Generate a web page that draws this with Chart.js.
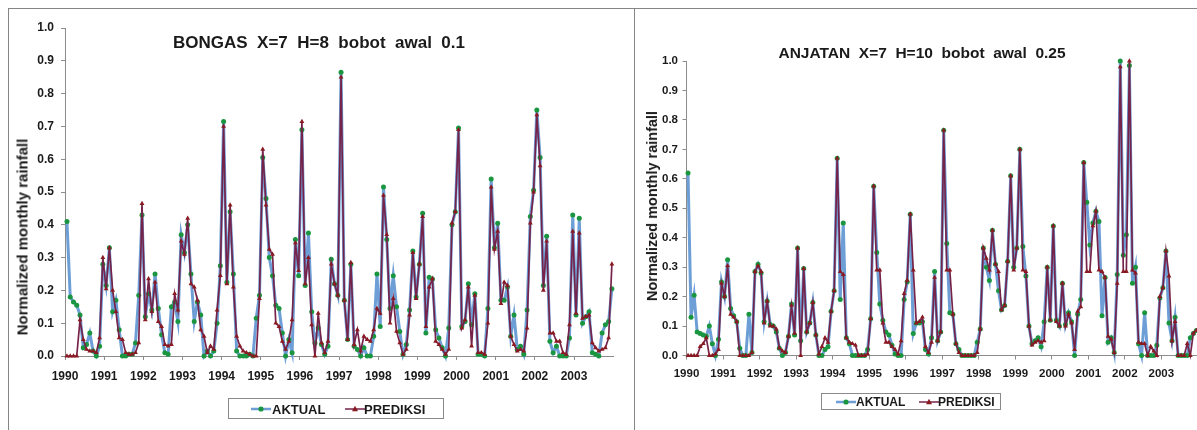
<!DOCTYPE html>
<html>
<head>
<meta charset="utf-8">
<script src="https://cdn.jsdelivr.net/npm/chart.js@4.4.1/dist/chart.umd.min.js"></script>
<style>
html, body { margin: 0; padding: 0; background: #fff; }
body { width: 1197px; height: 430px; overflow: hidden; position: relative; font-family: "Liberation Sans", Arial, sans-serif; color: #1a1a1a; }
.panel { position: absolute; border: 1px solid #858585; }
canvas { position: absolute; }
.ttl { position: absolute; font-weight: bold; white-space: pre; transform: translate(-50%, -50%); }
.ytl { position: absolute; font-weight: bold; white-space: pre; transform: translate(-50%, -50%) rotate(-90deg); }
.leg { position: absolute; border: 1px solid #8a8a8a; box-sizing: border-box; font-weight: bold; }
.leg span { position: absolute; top: 50%; transform: translateY(-50%); white-space: pre; }
.leg svg { position: absolute; top: 50%; transform: translateY(-50%); }
</style>
</head>
<body>
<div class="panel" style="left:8px;top:8px;width:640px;height:440px;border-right:none"></div>
<div class="panel" style="left:634px;top:8px;width:640px;height:440px;background:#fff"></div>
<canvas id="c1" width="611" height="421" style="left:9px;top:9px;width:611px;height:421px"></canvas>
<canvas id="c2" width="600" height="421" style="left:635px;top:9px;width:600px;height:421px"></canvas>

<div id="t1" class="ttl" style="left:319px;top:43px;font-size:17px"></div>
<div id="t2" class="ttl" style="left:922px;top:53px;font-size:15.5px"></div>
<div id="y1" class="ytl" style="left:22px;top:237px;font-size:15px"></div>
<div id="y2" class="ytl" style="left:652px;top:206px;font-size:14.5px"></div>

<div id="l1" class="leg" style="left:228px;top:398px;width:216px;height:21px;font-size:13px"></div>
<div id="l2" class="leg" style="left:821px;top:393px;width:180px;height:17px;font-size:12px"></div>

<script>
const years = ['1990','1991','1992','1993','1994','1995','1996','1997','1998','1999','2000','2001','2002','2003'];
const seriesNames = ['AKTUAL', 'PREDIKSI'];
const titleBongas = 'BONGAS  X=7  H=8  bobot  awal  0.1';
const titleAnjatan = 'ANJATAN  X=7  H=10  bobot  awal  0.25';
const yTitle = 'Normalized monthly rainfall';

// BONGAS, monthly Jan 1990 - Dec 2003
const bongasAktual = [
  0.41,0.18,0.165,0.155,0.125,0.025,0.035,0.07,0.015,0.0,0.03,0.28,
  0.215,0.33,0.135,0.17,0.08,0.0,0.0,0.005,0.005,0.04,0.185,0.43,
  0.12,0.19,0.14,0.25,0.145,0.065,0.01,0.005,0.15,0.165,0.105,0.37,
  0.315,0.40,0.25,0.105,0.165,0.125,0.0,0.015,0.0,0.015,0.10,0.275,
  0.715,0.225,0.44,0.25,0.015,0.0,0.0,0.0,0.005,0.0,0.115,0.185,
  0.605,0.48,0.30,0.245,0.155,0.145,0.07,0.0,0.05,0.01,0.355,0.245,
  0.69,0.215,0.375,0.135,0.04,0.085,0.035,0.005,0.03,0.295,0.22,0.185,
  0.865,0.17,0.05,0.28,0.03,0.02,0.0,0.025,0.0,0.0,0.06,0.25,
  0.09,0.515,0.355,0.145,0.245,0.15,0.075,0.005,0.035,0.14,0.32,0.18,
  0.28,0.435,0.07,0.24,0.235,0.08,0.055,0.025,0.0,0.085,0.40,0.44,
  0.695,0.09,0.105,0.22,0.095,0.19,0.005,0.005,0.0,0.145,0.54,0.33,
  0.405,0.17,0.17,0.21,0.06,0.125,0.02,0.03,0.005,0.14,0.425,0.505,
  0.75,0.605,0.215,0.365,0.045,0.01,0.03,0.0,0.0,0.0,0.055,0.43,
  0.125,0.42,0.10,0.12,0.135,0.01,0.005,0.0,0.07,0.095,0.105,0.205
];
const bongasPrediksi = [
  0,0,0,0,0.11,0.05,0.02,0.015,0.015,0.01,0.055,0.30,
  0.205,0.33,0.20,0.135,0.055,0.05,0.01,0.005,0.005,0.01,0.04,0.465,
  0.11,0.235,0.135,0.225,0.105,0.09,0.035,0.03,0.035,0.19,0.14,0.35,
  0.31,0.42,0.22,0.21,0.17,0.08,0.06,0.01,0.03,0.02,0.14,0.245,
  0.70,0.22,0.46,0.21,0.06,0.03,0.015,0.01,0.005,0.0,0.0,0.175,
  0.63,0.46,0.325,0.31,0.10,0.09,0.045,0.02,0.045,0.11,0.345,0.26,
  0.715,0.22,0.30,0.095,0.0,0.13,0.04,0.01,0.045,0.28,0.22,0.185,
  0.85,0.17,0.05,0.285,0.035,0.08,0.015,0.06,0.05,0.045,0.08,0.145,
  0.13,0.49,0.37,0.10,0.175,0.075,0.04,0.005,0.02,0.125,0.315,0.175,
  0.28,0.425,0.09,0.21,0.235,0.045,0.035,0.02,0.005,0.02,0.405,0.44,
  0.69,0.085,0.11,0.21,0.03,0.185,0.01,0.01,0.005,0.10,0.515,0.325,
  0.38,0.16,0.225,0.215,0.06,0.035,0.015,0.02,0.015,0.085,0.405,0.50,
  0.735,0.58,0.20,0.35,0.07,0.07,0.045,0.045,0.01,0.005,0.095,0.38,
  0.13,0.375,0.115,0.12,0.125,0.04,0.025,0.015,0.02,0.025,0.055,0.28
];

// ANJATAN, monthly Jan 1990 - Dec 2003
const anjatanAktual = [
  0.62,0.13,0.205,0.08,0.075,0.07,0.065,0.10,0.04,0.0,0.055,0.25,
  0.20,0.325,0.16,0.135,0.115,0.025,0.0,0.0,0.14,0.01,0.285,0.31,
  0.28,0.115,0.185,0.105,0.10,0.08,0.025,0.0,0.01,0.065,0.175,0.07,
  0.365,0.05,0.295,0.08,0.11,0.18,0.07,0.0,0.0,0.02,0.03,0.15,
  0.22,0.67,0.19,0.45,0.06,0.04,0.0,0.0,0.0,0.0,0.0,0.02,
  0.125,0.575,0.35,0.175,0.12,0.08,0.07,0.035,0.005,0.0,0.0,0.19,
  0.25,0.48,0.075,0.11,0.11,0.115,0.02,0.005,0.06,0.285,0.05,0.08,
  0.765,0.38,0.145,0.14,0.04,0.02,0.0,0.0,0.0,0.0,0.0,0.045,
  0.09,0.365,0.30,0.255,0.425,0.31,0.22,0.155,0.17,0.32,0.61,0.30,
  0.365,0.70,0.37,0.27,0.10,0.04,0.05,0.06,0.03,0.115,0.30,0.12,
  0.44,0.12,0.10,0.245,0.105,0.145,0.115,0.0,0.14,0.19,0.655,0.52,
  0.375,0.45,0.49,0.455,0.135,0.265,0.045,0.06,0.01,0.275,1.0,0.34,
  0.41,0.985,0.245,0.30,0.04,0.0,0.145,0.0,0.0,0.0,0.035,0.195,
  0.23,0.355,0.11,0.05,0.13,0.0,0.0,0.0,0.0,0.06,0.075,0.085
];
const anjatanPrediksi = [
  0,0,0,0,0.03,0.04,0.06,0.0,0.0,0.005,0.02,0.245,
  0.20,0.305,0.14,0.13,0.115,0.0,0.0,0.0,0.0,0.01,0.285,0.305,
  0.285,0.11,0.185,0.10,0.10,0.09,0.025,0.015,0.01,0.065,0.17,0.075,
  0.365,0.0,0.295,0.08,0.11,0.18,0.07,0.005,0.03,0.06,0.045,0.15,
  0.22,0.67,0.285,0.275,0.06,0.045,0.04,0.035,0.0,0.0,0.0,0.005,
  0.125,0.575,0.29,0.29,0.11,0.045,0.045,0.03,0.02,0.005,0.05,0.21,
  0.255,0.48,0.29,0.11,0.115,0.13,0.03,0.01,0.045,0.265,0.05,0.08,
  0.765,0.29,0.29,0.14,0.04,0.01,0.0,0.0,0.0,0.0,0.0,0.01,
  0.09,0.365,0.33,0.29,0.425,0.31,0.285,0.155,0.17,0.32,0.61,0.29,
  0.365,0.70,0.29,0.285,0.10,0.035,0.045,0.05,0.045,0.05,0.30,0.12,
  0.44,0.115,0.10,0.245,0.10,0.14,0.11,0.02,0.15,0.165,0.655,0.285,
  0.285,0.44,0.49,0.29,0.285,0.265,0.065,0.055,0.01,0.245,0.98,0.285,
  0.285,1.0,0.29,0.28,0.045,0.04,0.04,0.0,0.03,0.015,0.0,0.2,
  0.23,0.355,0.27,0.05,0.115,0.0,0.0,0.0,0.04,0.0,0.075,0.085
];

const blue = '#6d9fd6';
const green = '#1b9640';
const red = '#8a1a22';
const redLine = '#76234a';
const axisCol = '#8c8c8c';
const txtCol = '#1a1a1a';

Chart.defaults.font.family = '"Liberation Sans", Arial, sans-serif';

function makeChart(id, aktual, prediksi, o) {
  const pts = arr => arr.map((v, i) => ({x: i, y: v}));
  return new Chart(document.getElementById(id), {
    type: 'line',
    data: {
      datasets: [
        {
          label: seriesNames[0], data: pts(aktual), order: 1, clip: false,
          borderColor: blue, borderWidth: 3, tension: 0,
          pointStyle: 'circle', pointRadius: 2.5, pointBorderWidth: 0,
          pointBackgroundColor: green, pointBorderColor: green
        },
        {
          label: seriesNames[1], data: pts(prediksi), order: 0, clip: false,
          borderColor: redLine, borderWidth: 1.7, tension: 0,
          pointStyle: 'triangle', pointRadius: 2.8, pointBorderWidth: 0,
          pointBackgroundColor: red, pointBorderColor: red
        }
      ]
    },
    options: {
      responsive: false,
      animation: false,
      devicePixelRatio: 1,
      layout: {padding: o.pad},
      plugins: {legend: {display: false}, tooltip: {enabled: false}},
      scales: {
        x: {
          type: 'linear', min: o.xmin, max: o.xmax,
          ticks: {
            stepSize: 12, includeBounds: false, maxTicksLimit: 20, autoSkip: false, maxRotation: 0,
            padding: o.xpad, color: txtCol, font: {size: o.fs, weight: 'bold'},
            callback: v => years[Math.round(v / 12)]
          },
          grid: {drawOnChartArea: false, tickLength: 4, color: axisCol},
          border: {color: axisCol},
          afterFit: s => { s.height = 30; }
        },
        y: {
          min: 0, max: 1,
          ticks: {
            stepSize: 0.1, maxTicksLimit: 12, padding: o.ypad, color: txtCol,
            font: {size: o.fs, weight: 'bold'},
            callback: v => v.toFixed(1)
          },
          grid: {drawOnChartArea: false, tickLength: 4, color: axisCol},
          border: {color: axisCol},
          afterFit: s => { s.width = o.yw; }
        }
      }
    }
  });
}

// left: plot 65..613 x 28..356 ; right: plot 686.5..1198 x 61..355.5
makeChart('c1', bongasAktual, bongasPrediksi, {
  pad: {left: 0, top: 19, right: 6.8, bottom: 44}, yw: 56, xmin: -0.6, xmax: 167.4,
  xpad: 9, ypad: 7, fs: 12
});
makeChart('c2', anjatanAktual, anjatanPrediksi, {
  pad: {left: 0, top: 52, right: 37.1, bottom: 44.5}, yw: 51.5, xmin: -0.5, xmax: 167.5,
  xpad: 7, ypad: 4.5, fs: 11.5
});

document.getElementById('t1').textContent = titleBongas;
document.getElementById('t2').textContent = titleAnjatan;
document.getElementById('y1').textContent = yTitle;
document.getElementById('y2').textContent = yTitle;

function sample(kind, x) {
  const mark = kind === 0
    ? '<circle cx="10" cy="5" r="2.6" fill="' + green + '"/>'
    : '<polygon points="10,1.8 13,7.2 7,7.2" fill="' + red + '"/>';
  const col = kind === 0 ? blue : redLine;
  const w = kind === 0 ? 2.5 : 1.5;
  return '<svg width="20" height="10" style="left:' + x + 'px"><line x1="0" y1="5" x2="20" y2="5" stroke="' + col + '" stroke-width="' + w + '"/>' + mark + '</svg>';
}
function legend(id, xs) {
  document.getElementById(id).innerHTML =
    sample(0, xs[0]) + '<span style="left:' + xs[1] + 'px">' + seriesNames[0] + '</span>' +
    sample(1, xs[2]) + '<span style="left:' + xs[3] + 'px">' + seriesNames[1] + '</span>';
}
legend('l1', [22, 43, 116, 135]);
legend('l2', [14, 34, 97, 116]);
</script>
</body>
</html>
